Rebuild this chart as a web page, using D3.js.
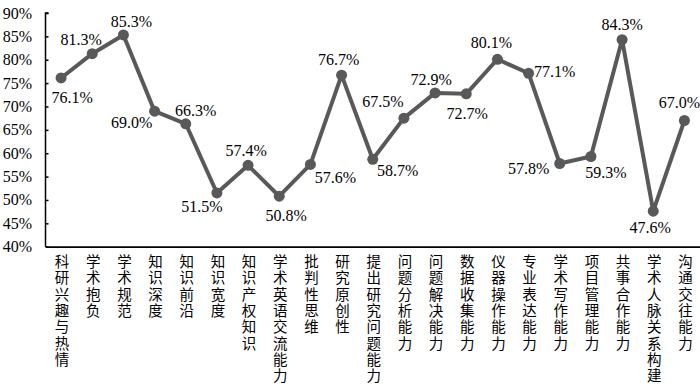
<!DOCTYPE html>
<html>
<head>
<meta charset="utf-8">
<script src="https://cdn.jsdelivr.net/npm/d3@7"></script>
<style>
  body { margin: 0; background: #fff; }
  svg { display: block; }
  .num { font-family: 'Liberation Serif', 'Times New Roman', 'DejaVu Serif', serif; font-size: 16px; fill: #000; }
  .cat { font-family: 'Noto Sans CJK SC', sans-serif; font-size: 14.5px; fill: #000; }
</style>
</head>
<body>
<div id="chart"></div>
<script>
// categories (read top to bottom as vertical labels)
var categories = ['科研兴趣与热情', '学术抱负', '学术规范', '知识深度', '知识前沿', '知识宽度',
  '知识产权知识', '学术英语交流能力', '批判性思维', '研究原创性', '提出研究问题能力',
  '问题分析能力', '问题解决能力', '数据收集能力', '仪器操作能力', '专业表达能力',
  '学术写作能力', '项目管理能力', '共事合作能力', '学术人脉关系构建', '沟通交往能力']

var values = [76.1, 81.3, 85.3, 69.0, 66.3, 51.5, 57.4, 50.8, 57.6, 76.7, 58.7,
  67.5, 72.9, 72.7, 80.1, 77.1, 57.8, 59.3, 84.3, 47.6, 67.0]

var yTicks = [40, 45, 50, 55, 60, 65, 70, 75, 80, 85, 90]

// label offsets from each point [dx, dy] (layout only)
var labelOffsets = [[11, 25], [-11, -9], [8, -8], [-23, 17], [10, -8], [-15, 19],
  [-2, -9], [7, 25], [25, 19], [-3, -10], [25, 17], [-21, -11], [-4, -8], [1, 25],
  [-6, -11], [26, 4], [-31, 10], [15, 22], [0, -10], [-3, 22], [-5, -13]]

var width = 700
var height = 385

var svg = d3
  .select('#chart')
  .append('svg')
  .attr('width', width)
  .attr('height', height)

var xPositionScale = d3
  .scaleBand()
  .domain(categories)
  .range([45.5, 700])

var yPositionScale = d3
  .scaleLinear()
  .domain([40, 90])
  .range([246.7, 13])

var xc = d => xPositionScale(d) + xPositionScale.bandwidth() / 2

// y axis, ticks pointing inward
var yAxis = d3
  .axisRight(yPositionScale)
  .tickValues(yTicks)
  .tickSize(3)
  .tickFormat('')
svg
  .append('g')
  .attr('class', 'axis y-axis')
  .attr('transform', 'translate(45.5,0)')
  .call(yAxis)
svg.selectAll('.y-axis path, .y-axis line').attr('stroke', '#000').attr('stroke-width', 1.5)
svg.select('.y-axis .domain').attr('d', 'M3,13H0V246.7')

svg
  .selectAll('.ytick')
  .data(yTicks)
  .enter()
  .append('text')
  .attr('class', 'num')
  .attr('x', 32)
  .attr('y', d => yPositionScale(d) + 5.5)
  .attr('text-anchor', 'end')
  .text(d => d + '%')

// x axis line
var xAxis = d3.axisBottom(xPositionScale).tickSize(0).tickFormat('')
svg
  .append('g')
  .attr('class', 'axis x-axis')
  .attr('transform', 'translate(0,246.7)')
  .call(xAxis)
svg.select('.x-axis .domain').attr('stroke', '#000').attr('stroke-width', 1.8)

// vertical category labels, one tspan per character
var catG = svg
  .selectAll('.catlabel')
  .data(categories)
  .enter()
  .append('text')
  .attr('class', 'cat')
  .attr('text-anchor', 'middle')

catG
  .selectAll('tspan')
  .data(d => d.split('').map((c, i) => ({ c: c, i: i, cat: d })))
  .enter()
  .append('tspan')
  .attr('x', d => xc(d.cat) + 1)
  .attr('y', d => 267 + d.i * 16.3)
  .text(d => d.c)

// line
var line = d3
  .line()
  .x((d, i) => xc(categories[i]))
  .y(d => yPositionScale(d))

svg
  .append('path')
  .datum(values)
  .attr('d', line)
  .attr('fill', 'none')
  .attr('stroke', '#595959')
  .attr('stroke-width', 4)
  .attr('stroke-linejoin', 'round')

svg
  .selectAll('circle')
  .data(values)
  .enter()
  .append('circle')
  .attr('r', 5.5)
  .attr('cx', (d, i) => xc(categories[i]))
  .attr('cy', d => yPositionScale(d))
  .attr('fill', '#595959')

svg
  .selectAll('.vlabel')
  .data(values)
  .enter()
  .append('text')
  .attr('class', 'num')
  .attr('text-anchor', 'middle')
  .attr('x', (d, i) => xc(categories[i]) + labelOffsets[i][0])
  .attr('y', (d, i) => yPositionScale(d) + labelOffsets[i][1])
  .text(d => d.toFixed(1) + '%')
</script>
</body>
</html>
